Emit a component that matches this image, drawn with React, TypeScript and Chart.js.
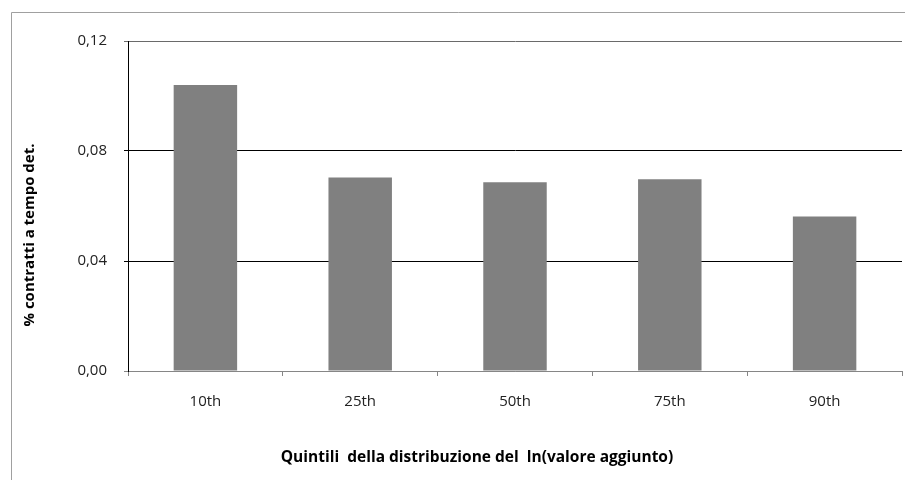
import React, { useEffect, useRef } from "react";
import { Chart, registerables } from "chart.js";

Chart.register(...registerables);

const categories = ["10th", "25th", "50th", "75th", "90th"];
const values = [0.104, 0.0704, 0.0686, 0.0697, 0.0562];
const yTicks = [0, 0.04, 0.08, 0.12];
const yTitle = "% contratti a tempo det.";
const xTitle = "Quintili  della distribuzione del  ln(valore aggiunto)";

const FONT = "'Open Sans', 'DejaVu Sans', sans-serif";

export default function App() {
  const ref = useRef<HTMLCanvasElement | null>(null);

  useEffect(() => {
    document.body.style.margin = "0";
    const canvas = ref.current!;
    const framePlugin = {
      id: "frame",
      beforeDraw(chart: any) {
        const ctx = chart.ctx;
        ctx.save();
        ctx.fillStyle = "#fff";
        ctx.fillRect(0, 0, chart.width, chart.height);
        ctx.strokeStyle = "#a0a0a0";
        ctx.lineWidth = 1;
        ctx.beginPath();
        ctx.moveTo(11.5, chart.height);
        ctx.lineTo(11.5, 12.5);
        ctx.lineTo(chart.width, 12.5);
        ctx.stroke();
        ctx.restore();
      },
      afterDraw(chart: any) {
        const ctx = chart.ctx;
        ctx.save();
        ctx.fillStyle = "#000";
        ctx.font = `bold 15px ${FONT}`;
        ctx.textAlign = "center";
        ctx.textBaseline = "middle";
        ctx.translate(30, 235);
        ctx.rotate(-Math.PI / 2);
        ctx.fillText(yTitle, 0, 0);
        ctx.restore();
        ctx.save();
        ctx.fillStyle = "#000";
        ctx.font = `bold 15.5px ${FONT}`;
        ctx.textAlign = "center";
        ctx.textBaseline = "middle";
        ctx.fillText(xTitle, 477, 458);
        ctx.restore();
      },
    };

    const chart = new Chart(canvas, {
      type: "bar",
      data: {
        labels: categories,
        datasets: [
          {
            data: values,
            backgroundColor: "#808080",
            borderWidth: 0,
            categoryPercentage: 1,
            barPercentage: 0.41,
          },
        ],
      },
      options: {
        animation: false,
        responsive: false,
        maintainAspectRatio: false,
        layout: { padding: { top: 41, right: 3, left: 0, bottom: 0 } },
        plugins: { legend: { display: false }, tooltip: { enabled: false } },
        scales: {
          x: {
            afterFit(scale: any) {
              scale.height = 109;
            },
            grid: {
              drawOnChartArea: false,
              drawTicks: true,
              tickLength: 5,
              color: "#868686",
              offset: true,
            },
            border: { color: "#868686", width: 1 },
            ticks: {
              color: "#222",
              font: { family: FONT, size: 15 },
              padding: 17,
              maxRotation: 0,
            },
          },
          y: {
            min: 0,
            max: 0.12,
            afterFit(scale: any) {
              scale.width = 128;
            },
            afterBuildTicks(scale: any) {
              scale.ticks = yTicks.map((v) => ({ value: v }));
            },
            grid: {
              color: (c: any) =>
                c.tick && c.tick.value === 0.12 ? "#6a6a6a" : c.tick && c.tick.value === 0 ? "#868686" : "#000",
              tickLength: 4,
            },
            border: { color: "#000", width: 1 },
            ticks: {
              color: "#222",
              font: { family: FONT, size: 15 },
              padding: 17,
              callback: (v: any) => Number(v).toFixed(2).replace(".", ","),
            },
          },
        },
      },
      plugins: [framePlugin],
    });
    return () => chart.destroy();
  }, []);

  return <canvas ref={ref} width={905} height={480} style={{ display: "block" }} />;
}
